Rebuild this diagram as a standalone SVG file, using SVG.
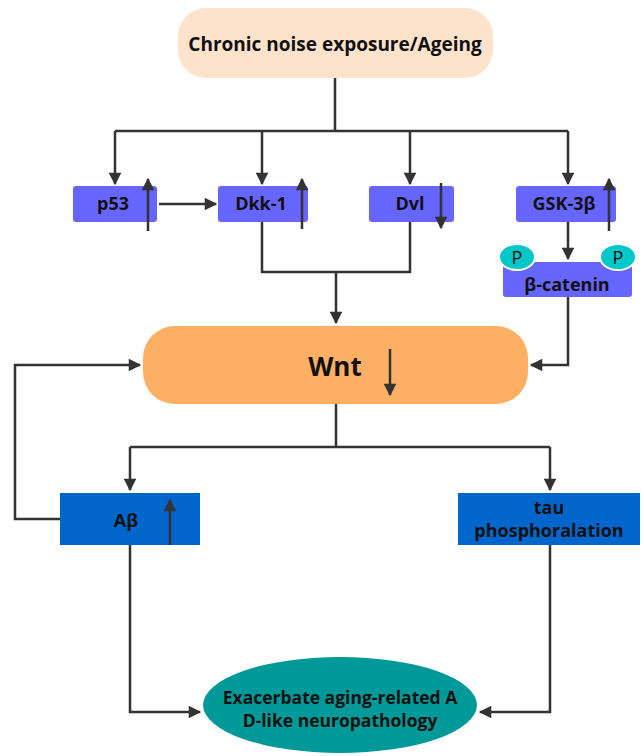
<svg xmlns="http://www.w3.org/2000/svg" width="643" height="756" viewBox="0 0 643 756">
<defs>
<style>
text{font-family:"Open Sans","Noto Sans","DejaVu Sans",sans-serif;font-weight:700;fill:#111;text-anchor:middle}
.ln{fill:none;stroke:#333;stroke-width:2.5}
.ar{fill:none;stroke:#333;stroke-width:2.5;marker-end:url(#ah)}
.pn{fill:#6666FF}
.bn{fill:#0066CC}
.pp{fill:#00C8C8;stroke:#fff;stroke-width:2}
.pt{font-weight:400;font-size:18px}
</style>
<marker id="ah" viewBox="0 0 10 10" refX="9" refY="5" markerWidth="6" markerHeight="5" markerUnits="strokeWidth" orient="auto">
<path d="M0,0 L10,5 L0,10 z" fill="#333"/>
</marker>
</defs>
<rect width="643" height="756" fill="#fff"/>
<g id="top"><rect x="178" y="8" width="315" height="70" rx="28" fill="#FDE3CC"/><text x="335" y="51" font-size="19">Chronic noise exposure/Ageing</text></g>
<g id="p53"><rect class="pn" x="73" y="186" width="84" height="36" rx="3"/><text x="113" y="210" font-size="18">p53</text></g>
<g id="dkk1"><rect class="pn" x="218" y="186" width="90" height="36" rx="3"/><text x="261" y="210" font-size="18">Dkk-1</text></g>
<g id="dvl"><rect class="pn" x="369" y="186" width="85" height="36" rx="3"/><text x="410" y="210" font-size="18">Dvl</text></g>
<g id="gsk"><rect class="pn" x="516" y="186" width="100" height="36" rx="3"/><text x="564" y="210" font-size="18">GSK-3β</text></g>
<g id="bcat"><rect class="pn" x="503" y="262" width="129" height="35" rx="3"/><ellipse class="pp" cx="517" cy="257" rx="18" ry="13"/><ellipse class="pp" cx="618" cy="257" rx="18" ry="13"/><text class="pt" x="517" y="264">P</text><text class="pt" x="618" y="264">P</text><text x="567" y="291" font-size="18">β-catenin</text></g>
<g id="wnt"><rect x="143" y="326" width="385" height="78" rx="32" fill="#FDB064"/><text x="335" y="376" font-size="26">Wnt</text></g>
<g id="abeta"><rect class="bn" x="60" y="493" width="140" height="52"/><text x="126" y="527" font-size="18">Aβ</text></g>
<g id="tau"><rect class="bn" x="458" y="493" width="182" height="52"/><text x="549" y="514" font-size="18">tau</text><text x="549" y="537" font-size="18">phosphoralation</text></g>
<g id="outcome"><ellipse cx="340" cy="705" rx="137" ry="48" fill="#009999"/><text x="340" y="704" font-size="17.5">Exacerbate aging-related A</text><text x="340" y="727" font-size="17.5">D-like neuropathology</text></g>
<g id="connectors">
<path class="ln" d="M335,78 V131 M115,131 H568"/>
<path class="ar" d="M115,131 V184"/>
<path class="ar" d="M262,131 V184"/>
<path class="ar" d="M410,131 V184"/>
<path class="ar" d="M568,131 V184"/>
<path class="ar" d="M159,204 H216"/>
<path class="ar" d="M148,231 V179"/>
<path class="ar" d="M302,229 V179"/>
<path class="ar" d="M441,183 V228"/>
<path class="ar" d="M609,231 V179"/>
<path class="ar" d="M568,222 V259"/>
<path class="ln" d="M262,222 V272 H410 V222"/>
<path class="ar" d="M336,272 V323"/>
<path class="ar" d="M390,349 V395"/>
<path class="ar" d="M568,297 V365 H531"/>
<path class="ar" d="M60,519 H15 V365 H140"/>
<path class="ln" d="M336,404 V447 M130,447 H550"/>
<path class="ar" d="M130,447 V490"/>
<path class="ar" d="M550,447 V490"/>
<path class="ar" d="M170,545 V500"/>
<path class="ar" d="M130,545 V712 H200"/>
<path class="ar" d="M550,545 V712 H480"/>
</g>
</svg>
